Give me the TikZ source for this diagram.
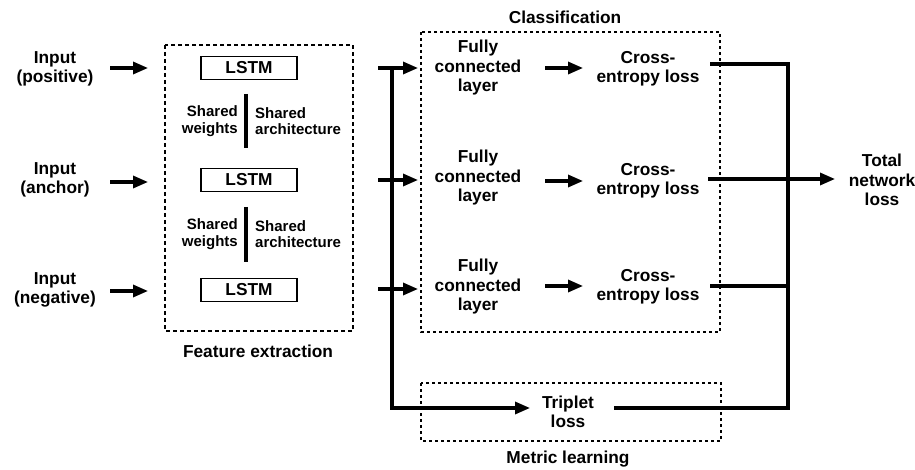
\documentclass[tikz,border=0pt]{standalone}
\usepackage{fontspec}
\setmainfont{Liberation Sans}
\usetikzlibrary{arrows.meta}
\begin{document}
\begin{tikzpicture}[x=1pt,y=-1pt,
  font=\bfseries\fontsize{17.3}{19.5}\selectfont,
  txt/.style={align=center, inner sep=0pt},
  smalltxt/.style={font=\bfseries\fontsize{15}{16.7}\selectfont, inner sep=0pt},
  ln/.style={line width=3.2pt},
  arr/.style={line width=3.2pt, -{Triangle[length=15pt,width=12pt]}},
  lstm/.style={draw, line width=1.5pt, minimum width=96pt, minimum height=23pt, inner sep=0pt},
  grp/.style={draw, line width=2pt, dash pattern=on 4pt off 3pt},
  bar/.style={line width=4pt}
]
\useasboundingbox (0,0) rectangle (915,470);

% Inputs
\node[txt] (inP) at (55,69) {Input\\(positive)};
\node[txt] (inA) at (55,180) {Input\\(anchor)};
\node[txt] (inN) at (55,290) {Input\\(negative)};

% Feature extraction
\draw[grp] (165,45) rectangle (353,331);
\node[txt] (fe) at (258,351) {Feature extraction};
\node[lstm] (l1) at (249,68) {LSTM};
\node[lstm] (l2) at (249,180) {LSTM};
\node[lstm] (l3) at (249,290) {LSTM};

\coordinate (b1t) at (246,94);  \coordinate (b1b) at (246,148);
\coordinate (b2t) at (246,207); \coordinate (b2b) at (246,262);
\draw[bar] (b1t) -- (b1b);
\draw[bar] (b2t) -- (b2b);
\node[smalltxt, align=right, anchor=east] (sw1) at (238,121) {Shared\\weights};
\node[smalltxt, align=left, anchor=west] (sa1) at (255,121) {Shared\\architecture};
\node[smalltxt, align=right, anchor=east] (sw2) at (238,234) {Shared\\weights};
\node[smalltxt, align=left, anchor=west] (sa2) at (255,234) {Shared\\architecture};

% input arrows
\coordinate (ip1) at (110,68); \coordinate (ie1) at (148,68);
\coordinate (ip2) at (110,182); \coordinate (ie2) at (148,182);
\coordinate (ip3) at (110,291); \coordinate (ie3) at (148,291);
\draw[arr] (ip1) -- (ie1);
\draw[arr] (ip2) -- (ie2);
\draw[arr] (ip3) -- (ie3);

% Classification
\draw[grp, dash pattern=on 3pt off 3pt] (421,32) rectangle (720,332);
\node[txt] (cl) at (565,17) {Classification};
\node[txt] (fc1) at (478,68) {Fully\\connected\\layer};
\node[txt] (fc2) at (478,178) {Fully\\connected\\layer};
\node[txt] (fc3) at (478,287) {Fully\\connected\\layer};
\node[txt] (ce1) at (648,69) {Cross-\\entropy loss};
\node[txt] (ce2) at (648,181) {Cross-\\entropy loss};
\node[txt] (ce3) at (648,287) {Cross-\\entropy loss};

\coordinate (fa1) at (545,68);  \coordinate (fb1) at (583,68);
\coordinate (fa2) at (545,181); \coordinate (fb2) at (583,181);
\coordinate (fa3) at (545,286); \coordinate (fb3) at (583,286);
\draw[arr] (fa1) -- (fb1);
\draw[arr] (fa2) -- (fb2);
\draw[arr] (fa3) -- (fb3);

% Metric learning
\draw[grp, dash pattern=on 3pt off 3pt] (421,383) rectangle (721,441);
\node[txt] (tl) at (568,412) {Triplet\\loss};
\node[txt] (ml) at (568,459) {Metric learning};

% fan-out
\coordinate (d0) at (392,68);
\coordinate (d3) at (392,408);
\coordinate (s1) at (378,68);  \coordinate (t1) at (418,68);
\coordinate (s2) at (378,180); \coordinate (t2) at (418,180);
\coordinate (s3) at (378,289); \coordinate (t3) at (418,289);
\coordinate (tt) at (530,408);
\draw[ln] (d0) -- (d3);
\draw[arr] (s1) -- (t1);
\draw[arr] (s2) -- (t2);
\draw[arr] (s3) -- (t3);
\draw[arr] ([xshift=-1.6pt]d3) -- (tt);

% collection
\node[txt] (tot) at (882,180) {Total\\network\\loss};
\coordinate (o1) at (710,64);  \coordinate (j1) at (788,64);
\coordinate (o2) at (708,179); \coordinate (j2) at (835,179);
\coordinate (o3) at (710,286); \coordinate (j3) at (788,286);
\coordinate (o4) at (614,408); \coordinate (j4) at (788,408);
\draw[ln] (o1) -- ([xshift=1.6pt]j1);
\draw[ln] (o3) -- (j3);
\draw[ln] (o4) -- ([xshift=1.6pt]j4);
\draw[ln] (j1) -- (j4);
\draw[arr] (o2) -- (j2);
\end{tikzpicture}
\end{document}
